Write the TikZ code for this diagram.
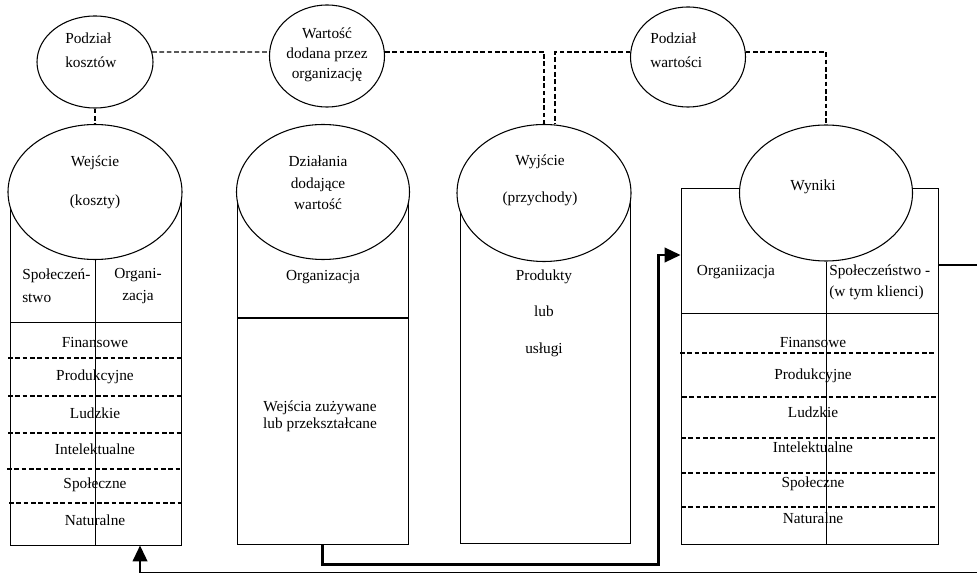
\documentclass[tikz,border=0pt]{standalone}
\usepackage{fontspec}
\setmainfont{Liberation Serif}
\usetikzlibrary{arrows.meta, shapes.geometric, fit}

\begin{document}
\begin{tikzpicture}[x=0.75pt, y=-0.75pt,
oval/.style={ellipse, draw, line width=0.8pt, fill=white, inner sep=0pt},
column/.style={rectangle, draw, line width=0.7pt, inner sep=0pt},
txt/.style={font=\fontsize{11.5}{14}\selectfont, align=center, inner sep=0pt},
rowline/.style={dash pattern=on 3.5pt off 2pt, line width=1pt},
linkline/.style={dash pattern=on 3.5pt off 2pt, line width=1pt},
flowline/.style={line width=1.6pt, -{Triangle[length=12pt, width=11pt]}}
]
	\useasboundingbox (0,0) rectangle (977,573);
	% columns
	\node[column, fit={(10,192) (181,545)}] (wejscieBox) {};
	\node[column, fit={(237,192) (408,544)}] (dzialaniaBox) {};
	\node[column, fit={(460,193) (630,543)}] (wyjscieBox) {};
	\node[column, fit={(681,188) (938,544)}] (wynikiBox) {};
	% inner lines
	\draw[line width=0.7pt] (10,322) -- (181,322);
	\draw[line width=1pt] (237,318) -- (408,318);
	\draw[line width=0.7pt] (681,313) -- (938,313);
	\draw[rowline] (8,358) -- (183,358);
	\draw[rowline] (8,396) -- (181,396);
	\draw[rowline] (8,433) -- (181,433);
	\draw[rowline] (7,469) -- (181,469);
	\draw[rowline] (9,503) -- (181,503);
	\draw[rowline] (680,353) -- (936,353);
	\draw[rowline] (682,397) -- (938,397);
	\draw[rowline] (681,438) -- (936,438);
	\draw[rowline] (681,473) -- (936,473);
	\draw[rowline] (681,507) -- (936,507);
	% ovals
	\node[oval, minimum width=87pt, minimum height=69pt] (podzialK) at (95,62) {};
	\node[oval, minimum width=86.25pt, minimum height=76.5pt] (wartosc) at (327,56) {};
	\node[oval, minimum width=86.25pt, minimum height=75pt] (podzialW) at (688,57) {};
	\node[oval, minimum width=130.5pt, minimum height=101.25pt] (wejscie) at (95,192) {};
	\node[oval, minimum width=129.75pt, minimum height=101.25pt] (dzialania) at (323,192) {};
	\node[oval, minimum width=130.5pt, minimum height=102.75pt] (wyjscie) at (544,193) {};
	\node[oval, minimum width=129.75pt, minimum height=102pt] (wyniki) at (826,193) {};
	\draw[line width=0.7pt] (wejscie.south) -- (wejscie.south |- wejscieBox.south);
	\draw[line width=0.7pt] (wyniki.south) -- (wyniki.south |- wynikiBox.south);
	% texts
	\node[txt, anchor=west, align=left] (podzialKT) at (65,50) {Podział\\[4pt]kosztów};
	\node[txt] (wartoscT) at (327,55) {Wartość\\[1pt]dodana przez\\[1pt]organizację};
	\node[txt, anchor=west, align=left] (podzialWT) at (650,50) {Podział\\[4pt]wartości};
	\node[txt] (wejscieT) at (95,182) {Wejście\\[15pt](koszty)};
	\node[txt] (dzialaniaT) at (318,183) {Działania\\[2pt]dodające\\[2pt]wartość};
	\node[txt] (wyjscieT) at (540,180) {Wyjście\\[13.75pt](przychody)};
	\node[txt] (wynikiT) at (813,187) {Wyniki};
	\node[txt, anchor=west, align=left] (spolL) at (22,286) {Społeczeń-\\[3pt]stwo};
	\node[txt] (orgL) at (138,286) {Organi-\\[3pt]zacja};
	\node[txt] (finL) at (95,342) {Finansowe};
	\node[txt] (prodL) at (95,377) {Produkcyjne};
	\node[txt] (ludzL) at (95,413) {Ludzkie};
	\node[txt] (intL) at (95,449) {Intelektualne};
	\node[txt] (spoL) at (95,485) {Społeczne};
	\node[txt] (natL) at (95,520) {Naturalne};
	\node[txt] (orgD) at (323,277) {Organizacja};
	\node[txt] (wejsciaD) at (320,416) {Wejścia zużywane\\[-1pt]lub przekształcane};
	\node[txt] (produktyW) at (544,313) {Produkty\\[13.4pt]lub\\[13.4pt]usługi};
	\node[txt] (orgR) at (736,272) {Organiizacja};
	\node[txt, anchor=west, align=left] (spolR) at (829,282) {Społeczeństwo -\\[1.75pt](w tym klienci)};
	\node[txt] (finR) at (813,342) {Finansowe};
	\node[txt] (prodR) at (813,376) {Produkcyjne};
	\node[txt] (ludzR) at (813,412) {Ludzkie};
	\node[txt] (intR) at (813,447) {Intelektualne};
	\node[txt] (spoR) at (813,484) {Społeczne};
	\node[txt] (natR) at (813,518) {Naturalne};
	% links
	\draw[linkline] (podzialK) -- (wejscie);
	\draw[linkline] (podzialK.10) -- (wartosc.176);
	\draw[linkline] (wartosc.4) -| (wyjscie.north);
	\draw[linkline] (podzialW.175) -| (wyjscie.81);
	\draw[linkline] (podzialW.5) -| (wyniki.north);
	% flows
	\draw[flowline] (dzialaniaBox.south) -- ++(0,20) -- ++(336,0) |- ([yshift=83.25pt]wynikiBox.west);
	\draw[flowline] ([yshift=75.75pt]wynikiBox.east) -- ++(41,0) -- ++(0,308) -| ([xshift=33.4pt]wejscieBox.south);
\end{tikzpicture}
\end{document}
